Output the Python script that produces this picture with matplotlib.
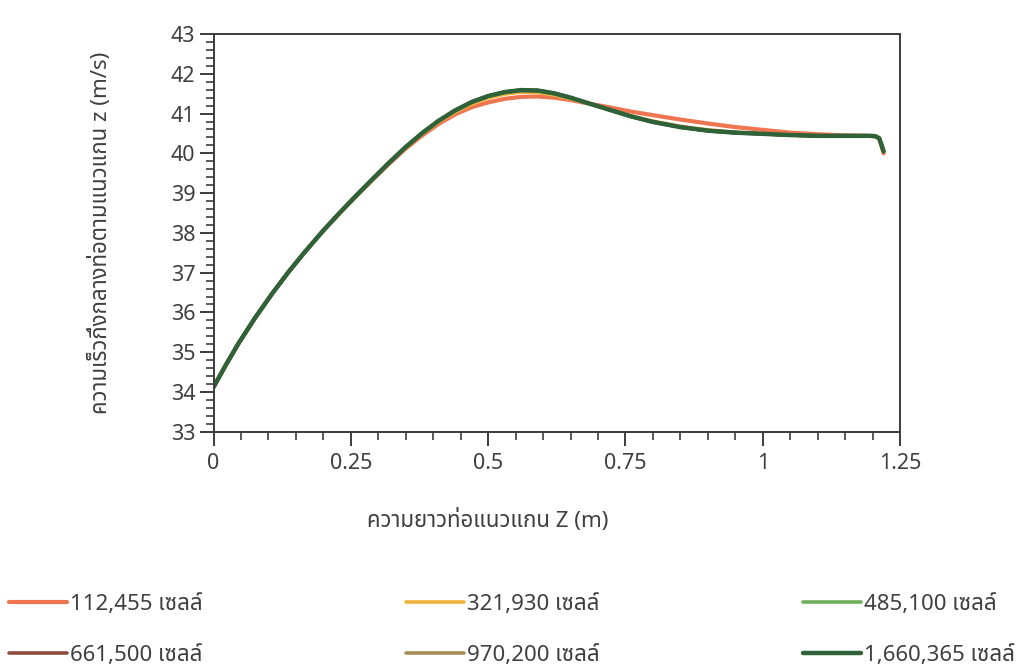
import matplotlib
matplotlib.use("Agg")
import matplotlib.pyplot as plt
from matplotlib.ticker import MultipleLocator, FuncFormatter

plt.rcParams['font.family'] = ['Noto Sans Thai', 'DejaVu Sans']

# axial position along the pipe (m)
z = [0.000, 0.020, 0.045, 0.075, 0.105, 0.135, 0.165, 0.200, 0.230, 0.260,
     0.290, 0.320, 0.350, 0.380, 0.410, 0.440, 0.470, 0.500, 0.530, 0.560,
     0.590, 0.620, 0.650, 0.680, 0.720, 0.760, 0.800, 0.850, 0.900, 0.950,
     1.000, 1.050, 1.100, 1.150, 1.195, 1.205, 1.212, 1.216, 1.220]

# centreline axial velocity (m/s) for each mesh size
v_112455 = [34.12, 34.62, 35.21, 35.85, 36.44, 36.99, 37.50, 38.06, 38.50, 38.93,
            39.34, 39.74, 40.12, 40.45, 40.74, 40.98, 41.16, 41.28, 41.37, 41.42,
            41.43, 41.40, 41.34, 41.26, 41.16, 41.05, 40.96, 40.85, 40.75, 40.66,
            40.59, 40.52, 40.48, 40.45, 40.44, 40.43, 40.37, 40.20, 40.00]
v_321930 = [34.12, 34.62, 35.21, 35.85, 36.44, 36.99, 37.50, 38.06, 38.51, 38.94,
            39.35, 39.76, 40.14, 40.49, 40.79, 41.04, 41.24, 41.39, 41.49, 41.54,
            41.53, 41.47, 41.37, 41.26, 41.10, 40.94, 40.81, 40.68, 40.59, 40.53,
            40.49, 40.46, 40.44, 40.44, 40.44, 40.43, 40.38, 40.22, 40.04]
v_485100 = [34.12, 34.62, 35.21, 35.85, 36.44, 36.99, 37.50, 38.06, 38.51, 38.94,
            39.36, 39.77, 40.16, 40.51, 40.82, 41.07, 41.28, 41.43, 41.53, 41.58,
            41.57, 41.50, 41.39, 41.27, 41.10, 40.93, 40.79, 40.66, 40.57, 40.52,
            40.49, 40.46, 40.44, 40.44, 40.44, 40.43, 40.38, 40.22, 40.05]
v_661500 = [34.12, 34.62, 35.21, 35.85, 36.44, 36.99, 37.50, 38.06, 38.51, 38.94,
            39.36, 39.77, 40.16, 40.51, 40.82, 41.08, 41.29, 41.44, 41.54, 41.59,
            41.58, 41.51, 41.40, 41.27, 41.10, 40.93, 40.79, 40.66, 40.57, 40.52,
            40.49, 40.46, 40.44, 40.44, 40.44, 40.43, 40.38, 40.22, 40.05]
v_970200 = [34.12, 34.62, 35.21, 35.85, 36.44, 36.99, 37.50, 38.06, 38.51, 38.94,
            39.36, 39.77, 40.16, 40.51, 40.82, 41.08, 41.29, 41.44, 41.54, 41.59,
            41.58, 41.51, 41.40, 41.27, 41.10, 40.93, 40.79, 40.66, 40.57, 40.52,
            40.49, 40.46, 40.44, 40.44, 40.44, 40.43, 40.38, 40.22, 40.05]
v_1660365 = [34.12, 34.62, 35.21, 35.85, 36.44, 36.99, 37.50, 38.06, 38.51, 38.94,
             39.36, 39.77, 40.16, 40.51, 40.82, 41.08, 41.29, 41.44, 41.54, 41.59,
             41.58, 41.51, 41.40, 41.27, 41.10, 40.93, 40.79, 40.66, 40.57, 40.52,
             40.49, 40.46, 40.44, 40.44, 40.44, 40.43, 40.38, 40.22, 40.05]

labels = ["112,455 เซลล์", "321,930 เซลล์", "485,100 เซลล์",
          "661,500 เซลล์", "970,200 เซลล์", "1,660,365 เซลล์"]
series = [v_112455, v_321930, v_485100, v_661500, v_970200, v_1660365]
colors = ["#EE7550", "#F2B33D", "#6FAF5C", "#8E4B3B", "#A88F58", "#2F6238"]
widths = [3.0, 2.6, 2.6, 2.6, 2.6, 3.2]

fig = plt.figure(figsize=(10.27, 6.67), dpi=100)
ax = fig.add_axes([0.2079, 0.3527, 0.6685, 0.5963])

lines = []
for vals, lab, c, w in zip(series, labels, colors, widths):
    ln, = ax.plot(z, vals, color=c, lw=w, label=lab,
                  solid_capstyle="round", solid_joinstyle="round")
    lines.append(ln)

ax.set_xlim(0, 1.25)
ax.set_ylim(33, 43)
ax.xaxis.set_major_locator(MultipleLocator(0.25))
ax.xaxis.set_minor_locator(MultipleLocator(0.05))
ax.yaxis.set_major_locator(MultipleLocator(1))
ax.yaxis.set_minor_locator(MultipleLocator(0.2))
ax.xaxis.set_major_formatter(FuncFormatter(lambda v, p: f"{v:g}"))

spine_color = "#3C3C3C"
text_color = "#3F3F3F"
for s in ax.spines.values():
    s.set_color(spine_color)
    s.set_linewidth(1.4)
ax.tick_params(which="major", direction="out", length=10, width=1.4,
               color=spine_color, labelsize=15.5, labelcolor=text_color)
ax.tick_params(which="minor", direction="out", length=6, width=1.2,
               color=spine_color)
ax.tick_params(axis="y", which="major", pad=3)
ax.tick_params(axis="x", which="major", pad=5)

ax.set_xlabel("ความยาวท่อแนวแกน Z (m)", fontsize=16, color=text_color, va="center")
ax.xaxis.set_label_coords(0.40, -0.222)
ax.set_ylabel("ความเร็วกึ่งกลางท่อตามแนวแกน z (m/s)", fontsize=16,
              color=text_color, va="center")
ax.yaxis.set_label_coords(-0.165, 0.50)

# legend laid out row by row (matplotlib fills columns first)
order = [0, 3, 1, 4, 2, 5]
fig.legend([lines[i] for i in order], [labels[i] for i in order],
           loc="lower left", bbox_to_anchor=(0.0, -0.012, 0.997, 0.14),
           mode="expand", ncol=3, frameon=False, fontsize=16,
           handlelength=2.6, handletextpad=0.15, labelspacing=1.35,
           borderaxespad=0.0, labelcolor=text_color)

fig.savefig("out.png", dpi=100, facecolor="white")
